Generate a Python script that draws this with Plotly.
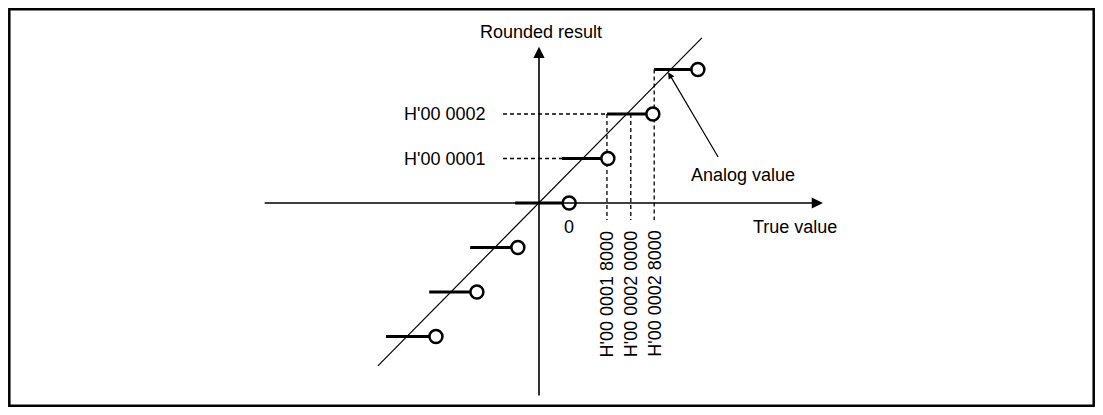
import plotly.graph_objects as go

# rounded result levels and the step each one covers (in LSB units of the true value)
levels = [-3, -2, -1, 0, 1, 2, 3]
step_start = [-3.40, -2.44, -1.53, -0.53, 0.51, 1.51, 2.56]
step_end = [-2.29, -1.38, -0.47, 0.67, 1.53, 2.53, 3.53]

# analog (ideal) value line
analog_x = [-3.58, 3.62]
analog_y = [-3.66, 3.71]

# y labels for the dashed guides
ylab_values = [1, 2]
ylab_text = ["H'00 0001", "H'00 0002"]

# x labels (rotated) for the dashed guides
xlab_values = [1.51, 2.04, 2.56]
xlab_top = [2, 2, 3]
xlab_text = ["H'00 0001 8000", "H'00 0002 0000", "H'00 0002 8000"]

# page has an 8px body margin, so the figure sits at (8, 8)
PAD = 8
W, H = 1103 - 2 * PAD, 415 - 2 * PAD
SX, SY = 45.0, 44.5      # px per unit
OX, OY = 539, 203        # origin, in page px
FONT = "Liberation Sans, Arial, Helvetica, sans-serif"


def ux(px):
    return (px - OX) / SX


def uy(py):
    return (OY - py) / SY


fig = go.Figure()

# dashed guides
guide_x, guide_y = [], []
for v, t in zip(ylab_values, step_start[4:6]):
    guide_x += [-0.80, t, None]
    guide_y += [v, v, None]
for xv, top in zip(xlab_values, xlab_top):
    guide_x += [xv, xv, None]
    guide_y += [top, -0.38, None]
fig.add_trace(go.Scatter(x=guide_x, y=guide_y, mode="lines",
                         line=dict(color="black", width=1.3, dash="4px,3px"),
                         hoverinfo="skip"))

# analog value line
fig.add_trace(go.Scatter(x=analog_x, y=analog_y, mode="lines",
                         line=dict(color="black", width=1.2), hoverinfo="skip"))

# steps
sx, sy = [], []
for lv, a, b in zip(levels, step_start, step_end):
    sx += [a, b, None]
    sy += [lv, lv, None]
fig.add_trace(go.Scatter(x=sx, y=sy, mode="lines",
                         line=dict(color="black", width=2.8), hoverinfo="skip"))
fig.add_trace(go.Scatter(x=step_end, y=levels, mode="markers",
                         marker=dict(symbol="circle", size=13, color="white",
                                     line=dict(color="black", width=2.5)),
                         hoverinfo="skip"))

ann = []
# axes with arrows
ann.append(dict(x=6.31, y=0, ax=-6.13, ay=0, xref="x", yref="y", axref="x", ayref="y",
                text="", showarrow=True, arrowhead=2, arrowsize=1.4, arrowwidth=1.6,
                arrowcolor="black"))
ann.append(dict(x=0, y=3.51, ax=0, ay=-4.36, xref="x", yref="y", axref="x", ayref="y",
                text="", showarrow=True, arrowhead=2, arrowsize=1.4, arrowwidth=1.6,
                arrowcolor="black"))
# pointer to analog value
ann.append(dict(x=2.87, y=2.94, ax=4.0, ay=1.0, xref="x", yref="y", axref="x", ayref="y",
                text="", showarrow=True, arrowhead=2, arrowsize=1.1, arrowwidth=1.2,
                arrowcolor="black"))

f = dict(family=FONT, size=18, color="black")
ann.append(dict(x=ux(541), y=uy(32), text="Rounded result", showarrow=False, font=f,
                xanchor="center", yanchor="middle"))
ann.append(dict(x=ux(795), y=uy(227), text="True value", showarrow=False,
                font=f, xanchor="center", yanchor="middle"))
ann.append(dict(x=ux(743), y=uy(175), text="Analog value", showarrow=False,
                font=f, xanchor="center", yanchor="middle"))
ann.append(dict(x=ux(569), y=uy(227), text="0", showarrow=False, font=f,
                xanchor="center", yanchor="middle"))
for v, t in zip(ylab_values, ylab_text):
    ann.append(dict(x=ux(488), y=v, text=t, showarrow=False, font=f,
                    xanchor="right", yanchor="middle"))
for xv, t in zip(xlab_values, xlab_text):
    ann.append(dict(x=xv, y=uy(228), text=t, showarrow=False, font=f,
                    textangle=-90, xanchor="center", yanchor="top"))

fig.update_layout(
    width=W, height=H,
    margin=dict(l=0, r=0, t=0, b=0),
    paper_bgcolor="white", plot_bgcolor="white",
    showlegend=False,
    xaxis=dict(range=[ux(PAD), ux(PAD + W)], visible=False, fixedrange=True),
    yaxis=dict(range=[uy(PAD + H), uy(PAD)], visible=False, fixedrange=True),
    annotations=ann,
    shapes=[dict(type="rect", xref="paper", yref="paper",
                 x0=1.3 / W, x1=1 - 1.3 / W, y0=1.3 / H, y1=1 - 1.3 / H,
                 line=dict(color="black", width=2.5))],
)

fig.write_html("out.html", config={"displayModeBar": False})
